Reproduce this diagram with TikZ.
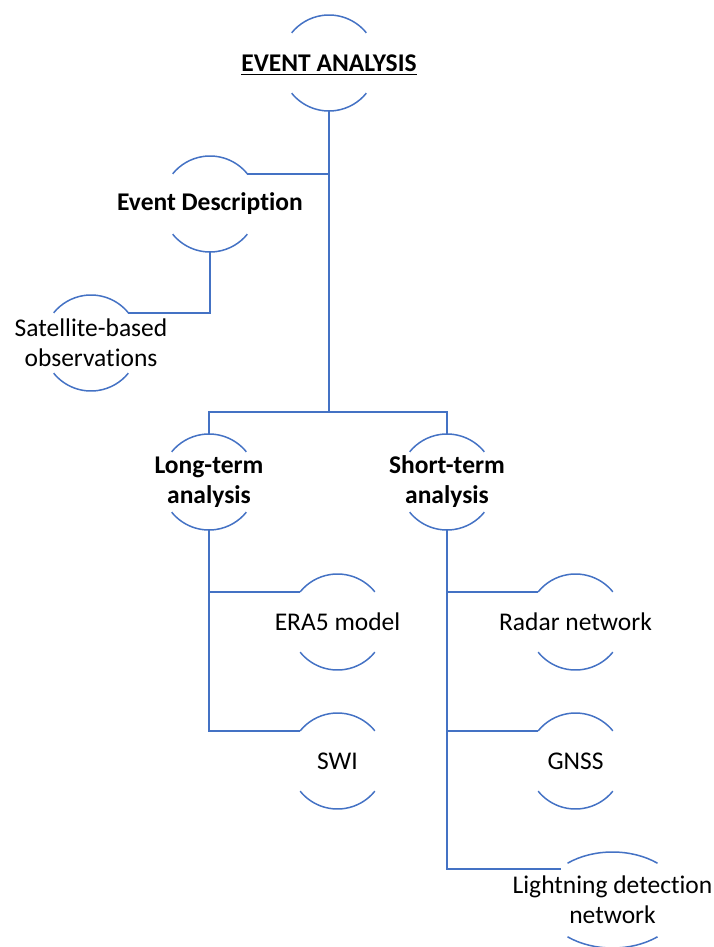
\documentclass[tikz,border=0pt]{standalone}
\usepackage{fontspec}
\setmainfont{Carlito}[Ligatures=NoCommon]
\usetikzlibrary{calc}
\definecolor{lineblue}{HTML}{4472C4}
\tikzset{
  arcline/.style={draw=lineblue, line width=1.5pt},
  conn/.style={draw=lineblue, line width=1.6pt},
  lbl/.style={align=center, inner sep=0pt, font=\fontsize{25.5pt}{30pt}\selectfont, text=black},
  blbl/.style={lbl, font=\fontsize{25.5pt}{30pt}\selectfont\bfseries},
}
\newcommand\circarcs[1]{%
  \draw[arcline] ($(#1)+(39:48pt)$) arc[start angle=39,end angle=141,radius=48pt];
  \draw[arcline] ($(#1)+(-141:48pt)$) arc[start angle=-141,end angle=-39,radius=48pt];}
\begin{document}
\begin{tikzpicture}[x=1pt,y=1pt]
\useasboundingbox (0,0) rectangle (714,-947);
% nodes
\node[blbl] (ea) at (329,-63) {EVENT ANALYSIS};
\draw[line width=1.4pt] ($(ea.south west)+(0,-3)$) -- ($(ea.south east)+(0,-3)$);
\node[blbl] (ed) at (210,-204) {Event Description};
\node[lbl] (sat) at (91,-343) {Satellite-based\\observations};
\node[blbl] (lt) at (209,-482) {Long-term\\analysis};
\node[blbl] (st) at (447,-482) {Short-term\\analysis};
\node[lbl] (era) at (337.5,-622) {ERA5 model};
\node[lbl] (swi) at (337.5,-761) {SWI};
\node[lbl] (radar) at (575.5,-622) {Radar network};
\node[lbl] (gnss) at (575.5,-761) {GNSS};
\node[lbl] (light) at (612.5,-900) {Lightning detection\\network};
% arcs
\circarcs{ea}
\circarcs{ed}
\circarcs{sat}
\circarcs{lt}
\circarcs{st}
\circarcs{era}
\circarcs{swi}
\circarcs{radar}
\circarcs{gnss}
\draw[arcline] ($(light)+(50:70pt and 48pt)$) arc[start angle=50,end angle=130,x radius=70pt,y radius=48pt];
\draw[arcline] ($(light)+(-130:70pt and 48pt)$) arc[start angle=-130,end angle=-50,x radius=70pt,y radius=48pt];
% connector points
\coordinate (eaB) at ($(ea)+(0,-48)$);
\coordinate (trunkJ) at (329,-412);
\coordinate (edR) at ($(ed)+(39:48pt)$);
\coordinate (edB) at ($(ed)+(0,-48)$);
\coordinate (satR) at ($(sat)+(39:48pt)$);
\coordinate (ltT) at ($(lt)+(0,48)$);
\coordinate (stT) at ($(st)+(0,48)$);
\coordinate (ltB) at ($(lt)+(0,-48)$);
\coordinate (stB) at ($(st)+(0,-48)$);
\coordinate (eraL) at ($(era)+(141:48pt)$);
\coordinate (swiL) at ($(swi)+(141:48pt)$);
\coordinate (radarL) at ($(radar)+(141:48pt)$);
\coordinate (gnssL) at ($(gnss)+(141:48pt)$);
\coordinate (lightL) at ($(light)+(-52,31)$);
% connectors
\draw[conn] (eaB) -- (trunkJ);
\draw[conn] (edR) -- (edR -| eaB);
\draw[conn] (edB) |- (satR);
\draw[conn] (ltT) |- (trunkJ) -| (stT);
\draw[conn] (ltB) |- (eraL);
\draw[conn] (ltB) |- (swiL);
\draw[conn] (stB) |- (radarL);
\draw[conn] (stB) |- (gnssL);
\draw[conn] (stB) |- (lightL);
\end{tikzpicture}
\end{document}
